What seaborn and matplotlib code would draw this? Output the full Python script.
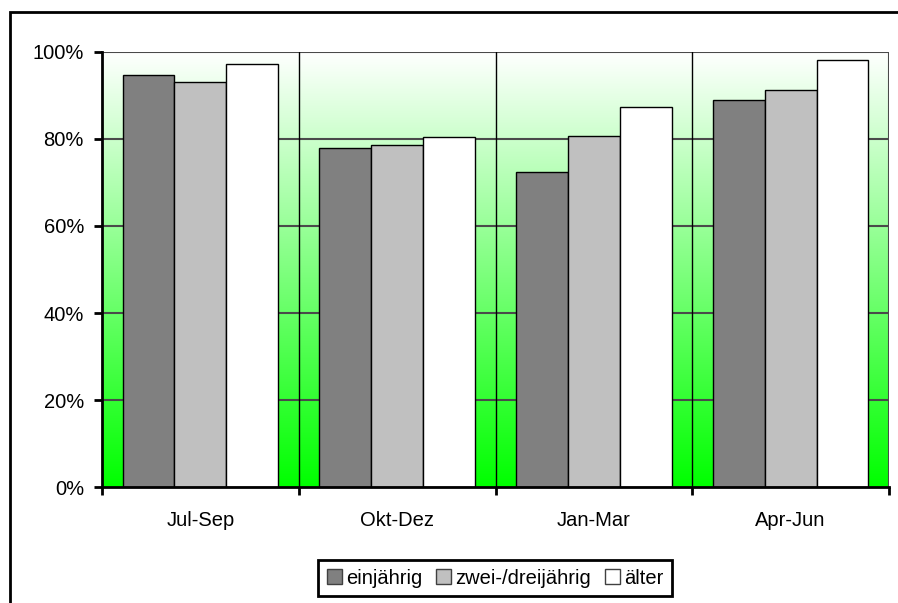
import numpy as np
import pandas as pd
import seaborn as sns
import matplotlib.pyplot as plt
from matplotlib.patches import Rectangle
from matplotlib.colors import LinearSegmentedColormap

sns.set_theme(style="white")
plt.rcParams["font.family"] = ["Liberation Sans", "DejaVu Sans"]
plt.rcParams["text.color"] = "black"
plt.rcParams["xtick.color"] = "black"
plt.rcParams["ytick.color"] = "black"

# values (share in %)
quarters = ["Jul-Sep", "Okt-Dez", "Jan-Mar", "Apr-Jun"]
groups = ["einjährig", "zwei-/dreijährig", "älter"]
einjaehrig = [94.6, 77.9, 72.3, 89.0]
zwei_drei = [93.0, 78.6, 80.6, 91.2]
aelter = [97.1, 80.4, 87.2, 98.2]
y_ticks = [0, 20, 40, 60, 80, 100]
y_labels = ["0%", "20%", "40%", "60%", "80%", "100%"]

df = pd.DataFrame({
    "quartal": quarters * 3,
    "gruppe": [g for g in groups for _ in quarters],
    "wert": einjaehrig + zwei_drei + aelter,
})

fig = plt.figure(figsize=(8.98, 6.03), dpi=100)
ax = fig.add_axes([102 / 898, 1 - 487.3 / 603, 787 / 898, 435.6 / 603])

# white -> green gradient background
cmap = LinearSegmentedColormap.from_list("wg", ["#00FF00", "#FFFFFF"])
grad = np.linspace(0, 1, 256).reshape(-1, 1)
ax.imshow(grad, cmap=cmap, origin="lower", aspect="auto",
          extent=(-0.5, 3.5, 0, 100), zorder=0)

sns.barplot(data=df, x="quartal", y="wert", hue="gruppe", order=quarters,
            hue_order=groups, palette=["#808080", "#C0C0C0", "#FFFFFF"],
            width=0.79, edgecolor="black", linewidth=1, saturation=1,
            errorbar=None, ax=ax, zorder=3)

# grid lines
for y in y_ticks[1:]:
    ax.axhline(y, color="#4a4a4a", lw=1.5, zorder=1)
for x in [0.5, 1.5, 2.5]:
    ax.axvline(x, color="black", lw=1, zorder=1)
ax.axvline(3.5, color="#4a4a4a", lw=1.5, zorder=1)

ax.set_xlim(-0.5, 3.5)
ax.set_ylim(0, 100)
ax.set_yticks(y_ticks)
ax.set_yticklabels(y_labels, fontsize=14.5)
ax.set_xticks(range(4))
ax.set_xticklabels(quarters, fontsize=14.5)
ax.set_xticks([-0.5, 0.5, 1.5, 2.5, 3.5], minor=True)
ax.tick_params(axis="x", which="major", length=0, pad=17)
ax.tick_params(axis="x", which="minor", length=6, width=2, direction="out",
               bottom=True, color="black")
ax.tick_params(axis="y", length=6, width=2, direction="out", left=True,
               color="black", pad=7)
ax.set_xlabel("")
ax.set_ylabel("")

for s in ["top", "right"]:
    ax.spines[s].set_visible(False)
for s in ["left", "bottom"]:
    ax.spines[s].set_color("black")
    ax.spines[s].set_linewidth(2)
    ax.spines[s].set_zorder(5)

handles, labels = ax.get_legend_handles_labels()
for h in handles:
    h.set_edgecolor("#404040")
ax.legend_.remove()
leg = fig.legend(handles, labels, loc="center", ncol=3,
                 bbox_to_anchor=(495 / 898, 1 - 578 / 603), fontsize=14.5,
                 frameon=True, fancybox=False, framealpha=1,
                 handlelength=0.75, handleheight=0.75, handletextpad=0.2,
                 columnspacing=0.7, borderpad=0.4, borderaxespad=0)
leg.get_frame().set_edgecolor("black")
leg.get_frame().set_linewidth(2)

# outer chart border
fig.patches.append(Rectangle((10 / 898, -0.2), 1.2, 1.2 - 12 / 603,
                             transform=fig.transFigure, fill=False,
                             edgecolor="black", lw=2))

fig.savefig("out.png", dpi=100)
